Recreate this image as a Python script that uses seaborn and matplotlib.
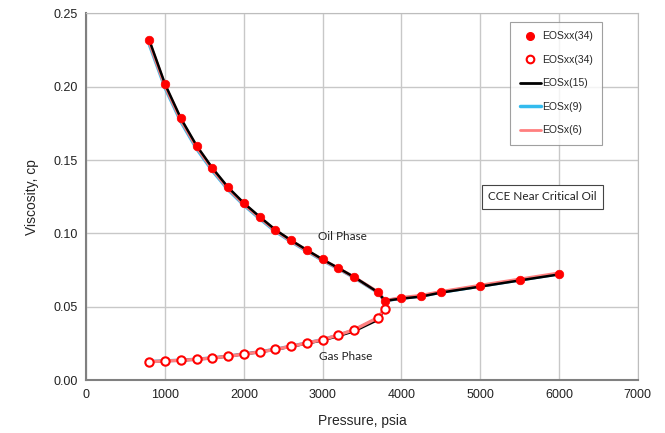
import numpy as np
import pandas as pd
import seaborn as sns
import matplotlib.pyplot as plt
from matplotlib.lines import Line2D

# measured points (EOSxx(34))
oil_p = [800, 1000, 1200, 1400, 1600, 1800, 2000, 2200, 2400, 2600, 2800, 3000,
         3200, 3400, 3700, 3790, 4000, 4250, 4500, 5000, 5500, 6000]
oil_mu = [0.2319, 0.2017, 0.1785, 0.1598, 0.1446, 0.1314, 0.1207, 0.1114, 0.1025,
          0.0953, 0.0887, 0.0823, 0.0764, 0.0703, 0.0600, 0.0539, 0.0559, 0.0573,
          0.0600, 0.0641, 0.0682, 0.0723]

gas_p = [800, 1000, 1200, 1400, 1600, 1800, 2000, 2200, 2400, 2600, 2800, 3000,
         3200, 3400, 3700, 3790]
gas_mu = [0.0125, 0.0130, 0.0134, 0.0141, 0.0150, 0.0162, 0.0177, 0.0191, 0.0209,
          0.0230, 0.0252, 0.0275, 0.0307, 0.0343, 0.0425, 0.0486]

# model curves
oil_mu_15 = [0.2315, 0.2015, 0.1783, 0.1597, 0.1445, 0.1313, 0.1206, 0.1113, 0.1024,
             0.0952, 0.0886, 0.0822, 0.0763, 0.0702, 0.0599, 0.0540, 0.0555, 0.0569,
             0.0596, 0.0637, 0.0679, 0.0720]
oil_mu_9 = [0.2285, 0.1990, 0.1760, 0.1576, 0.1426, 0.1297, 0.1192, 0.1100, 0.1013,
            0.0943, 0.0878, 0.0815, 0.0758, 0.0698, 0.0597, 0.0540, 0.0558, 0.0572,
            0.0598, 0.0640, 0.0682, 0.0724]
oil_mu_6 = [0.2300, 0.2003, 0.1772, 0.1587, 0.1436, 0.1305, 0.1199, 0.1107, 0.1019,
            0.0948, 0.0883, 0.0819, 0.0761, 0.0701, 0.0600, 0.0541, 0.0562, 0.0576,
            0.0602, 0.0645, 0.0687, 0.0729]

gas_mu_15 = [0.0125, 0.0130, 0.0134, 0.0141, 0.0150, 0.0162, 0.0177, 0.0191, 0.0208,
             0.0228, 0.0249, 0.0271, 0.0300, 0.0333, 0.0410, 0.0486]
gas_mu_9 = [0.0126, 0.0131, 0.0135, 0.0142, 0.0151, 0.0163, 0.0178, 0.0192, 0.0210,
            0.0231, 0.0253, 0.0276, 0.0306, 0.0340, 0.0420, 0.0486]
gas_mu_6 = [0.0125, 0.0130, 0.0134, 0.0141, 0.0150, 0.0162, 0.0177, 0.0191, 0.0209,
            0.0230, 0.0252, 0.0275, 0.0307, 0.0343, 0.0425, 0.0486]

sns.set_style("white")
plt.rcParams['font.family'] = ['Liberation Sans', 'DejaVu Sans']

fig = plt.figure(figsize=(6.65, 4.33), dpi=100)
ax = fig.add_axes([0.130, 0.1224, 0.829, 0.8466])

# (name, colour, width, oil values, gas values, oil z, gas z)
curves = [("EOSx(9)", "#33bbee", 2.4, oil_mu_9, gas_mu_9, 3, 3),
          ("EOSx(6)", "#ff7f7f", 2.4, oil_mu_6, gas_mu_6, 3.5, 4),
          ("EOSx(15)", "black", 1.8, oil_mu_15, gas_mu_15, 4, 3.5)]
for name, col, lw, om, gm, zo, zg in curves:
    sns.lineplot(x=oil_p, y=om, color=col, lw=lw, ax=ax, sort=False, zorder=zo)
    sns.lineplot(x=gas_p, y=gm, color=col, lw=lw, ax=ax, sort=False, zorder=zg)

sns.scatterplot(x=oil_p, y=oil_mu, color="red", s=38, edgecolor="red",
                linewidth=0.5, ax=ax, zorder=5)
sns.scatterplot(x=gas_p, y=gas_mu, facecolor="white", s=36, edgecolor="red",
                linewidth=1.5, ax=ax, zorder=5)

ax.set_xlim(0, 7000)
ax.set_ylim(0, 0.25)
ax.set_xticks(np.arange(0, 7001, 1000))
ax.set_yticks(np.arange(0, 0.251, 0.05))
ax.set_yticklabels([f"{v:.2f}" for v in np.arange(0, 0.251, 0.05)])
ax.grid(True, color="#c8c8c8", lw=1.0)
ax.set_axisbelow(True)
for s in ax.spines.values():
    s.set_color("#bdbdbd")
ax.spines['left'].set_color("#808080")
ax.spines['bottom'].set_color("#808080")
ax.spines['left'].set_linewidth(1.5)
ax.spines['bottom'].set_linewidth(1.5)
ax.tick_params(labelsize=9, colors="#222222", length=3)
ax.set_xlabel("Pressure, psia", fontsize=10, labelpad=9)
ax.set_ylabel("Viscosity, cp", fontsize=10, labelpad=10)

ax.text(3250, 0.098, "Oil Phase", fontsize=8.5, family=['Lato', 'DejaVu Sans'],
        ha="center", va="center", color="#222222")
ax.text(3290, 0.016, "Gas Phase", fontsize=8.5, family=['Lato', 'DejaVu Sans'],
        ha="center", va="center", color="#222222")
ax.text(5790, 0.125, "CCE Near Critical Oil", fontsize=8.5,
        family=['Lato', 'DejaVu Sans'], ha="center", va="center", color="#222222",
        bbox=dict(boxstyle="square,pad=0.55", fc="white", ec="#444444", lw=0.8))

handles = [
    Line2D([], [], ls="none", marker="o", color="red", ms=5.5),
    Line2D([], [], ls="none", marker="o", mfc="white", mec="red", mew=1.5, ms=5.5),
    Line2D([], [], color="black", lw=2),
    Line2D([], [], color="#33bbee", lw=2.5),
    Line2D([], [], color="#ff7f7f", lw=2),
]
labels = ["EOSxx(34)", "EOSxx(34)", "EOSx(15)", "EOSx(9)", "EOSx(6)"]
leg = ax.legend(handles, labels, loc="upper right", bbox_to_anchor=(0.935, 0.977),
                borderaxespad=0, fontsize=7.5, frameon=True, fancybox=False,
                handlelength=2.0, handletextpad=0.1, labelspacing=1.3, borderpad=0.9)
leg.get_frame().set_edgecolor("#888888")
leg.get_frame().set_linewidth(0.8)

fig.savefig("out.png", dpi=100)
